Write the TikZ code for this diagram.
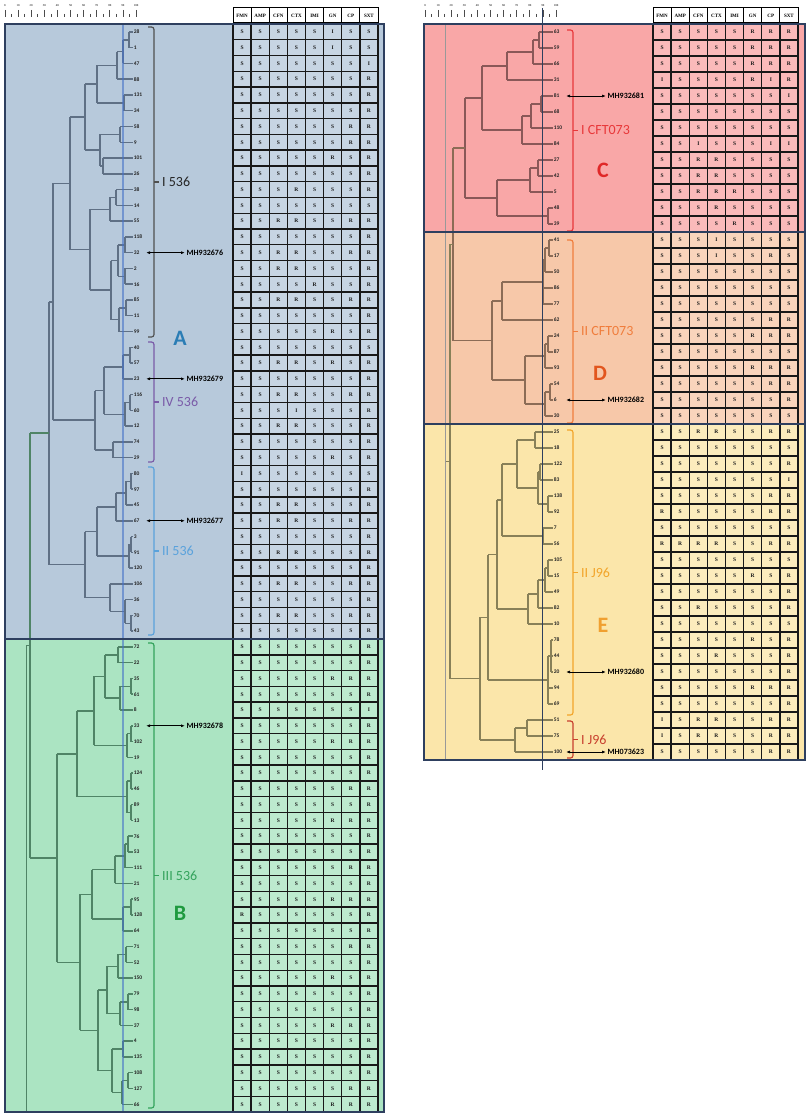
\documentclass[tikz,border=0pt]{standalone}
\usepackage{fontspec}
\setmainfont{Liberation Serif}
\newfontfamily\labf{Carlito}
\usetikzlibrary{calc,arrows.meta}
\definecolor{panA}{HTML}{B7C9DB}
\definecolor{panB}{HTML}{ABE4C2}
\definecolor{panC}{HTML}{F9A7A7}
\definecolor{panD}{HTML}{F7C8A9}
\definecolor{panE}{HTML}{FBE6AA}
\definecolor{frm}{HTML}{2E3F5F}
\definecolor{tcA}{HTML}{5F7085}
\definecolor{tcB}{HTML}{4F8466}
\definecolor{tcC}{HTML}{8A5858}
\definecolor{tcD}{HTML}{8C6C56}
\definecolor{tcE}{HTML}{888058}
\definecolor{cI}{HTML}{505050}
\definecolor{cIV}{HTML}{7A5BA8}
\definecolor{cII}{HTML}{5AA2DB}
\definecolor{cIII}{HTML}{34A35C}
\definecolor{cAA}{HTML}{2B7DB5}
\definecolor{cBB}{HTML}{1F9A3F}
\definecolor{cICFT}{HTML}{E8383A}
\definecolor{cCC}{HTML}{E02828}
\definecolor{cIICFT}{HTML}{F07D3C}
\definecolor{cDD}{HTML}{E2561E}
\definecolor{cIIJ}{HTML}{F2A52A}
\definecolor{cEE}{HTML}{F0A030}
\definecolor{cIJ}{HTML}{C8402E}
\definecolor{cutL}{RGB}{70,115,200}
\tikzset{
  tree/.style={line width=1.5pt,draw=tcA},
  frame/.style={draw=frm,line width=2pt},
  gridln/.style={draw=black!90,line width=1.4pt},
  cell/.style={font=\bfseries\fontsize{5.5}{6}\selectfont,text=black!90,inner sep=0pt},
  hcell/.style={draw=black,line width=1pt,fill=white,minimum width=18.125pt,minimum height=15pt,inner sep=0pt,font=\bfseries\fontsize{5}{5}\selectfont},
  leaf/.style={font=\labf\bfseries\fontsize{5.5}{6}\selectfont,anchor=west,inner sep=0.6pt,text=black!85},
  brkt/.style={line width=1.2pt,rounded corners=2.5pt},
  clab/.style={font=\labf\fontsize{14}{14}\selectfont,anchor=west,inner sep=0pt},
  bigl/.style={font=\labf\bfseries\fontsize{22}{22}\selectfont,inner sep=0pt},
  mh/.style={font=\labf\bfseries\fontsize{8}{8}\selectfont,anchor=west,inner sep=0.5pt},
  dbl/.style={{Latex[length=4pt,width=3pt]}-{Latex[length=4pt,width=3pt]},line width=0.9pt,shorten >=1pt},
  guide/.style={line width=0.8pt},
  tickm/.style={line width=0.7pt,draw=black!70},
  sclab/.style={font=\fontsize{3}{3}\selectfont,inner sep=0pt},
}
% dendrogram node: name, x, children
\newcommand\dgn[3]{%
  \foreach \dch [count=\dni] in {#3}{%
    \ifnum\dni=1 \global\let\dfirst\dch\fi
    \global\let\dlast\dch}%
  \path let \p1=($(\dfirst)!0.5!(\dlast)$) in (#2pt,\y1) coordinate (#1);
  \draw[tree] (#1 |- \dfirst) -- (#1 |- \dlast);
  \foreach \dch in {#3}{\draw[tree] (#1 |- \dch) -- (\dch);}%
}
% clade bracket: name, x, ytop, ybot, bracket colour, text colour, text
\newcommand\clbr[7]{%
  \draw[brkt,draw=#5] (#2-6,#3) -- (#2,#3) -- (#2,#4) -- (#2-6,#4);
  \draw[brkt,draw=#5] (#2,{(#3+#4)/2}) -- (#2+5,{(#3+#4)/2});
  \node[clab,text=#6] (#1) at (#2+8,{(#3+#4)/2}) {#7};
}
\def\setcodes#1#2#3#4#5#6#7#8\relax{\def\cdlist{#1,#2,#3,#4,#5,#6,#7,#8}}
\begin{document}
\begin{tikzpicture}[x=1pt,y=-1pt]
\useasboundingbox (0,0) rectangle (806,1116);
\fill[white] (0,0) rectangle (806,1116);
% panels
\fill[panA] (5,24) rectangle (384,638.5);
\fill[panB] (5,638.5) rectangle (384,1112);
\fill[panC] (424,24) rectangle (806,232);
\fill[panD] (424,232) rectangle (806,424);
\fill[panE] (424,424) rectangle (806,760);
% scales
\foreach \xo/\sn in {5/l,425/r}{
  \foreach \i [evaluate=\i as \v using int(10*\i)] in {0,...,10}{
    \draw[tickm] ({\xo+13.1*\i},10) -- ({\xo+13.1*\i},17);
    \node[sclab] (sc\sn\i) at ({\xo+13.1*\i},6) {\v};}
  \foreach \i in {0,...,9}{\draw[tickm] ({\xo+13.1*\i+6.55},14) -- ({\xo+13.1*\i+6.55},17);}
}
% table headers
\foreach \xo/\sn in {233/L,653/R}{
  \foreach \h [count=\c from 0] in {FMN,AMP,CFN,CTX,IMI,GN,CP,SXT}
    {\node[hcell] (h\sn\c) at ({\xo+18.125*(\c+0.5)},15.5) {\h};}
}
% left table
\fill[panA!78!white] (233,24) rectangle (378,638.5);
\fill[panB!78!white] (233,638.5) rectangle (378,1112);
\foreach \rw [count=\r from 0] in {SSSSSISS,SSSSSISS,SSSSSSSI,SSSSSSSR,SSSSSSSR,SSSSSSSR,SSSSSSRR,SSSSSSRR,SSSSSRSR,SSSSSSSR,
SSSRSSSR,SSSSSSSS,SSRRSSRR,SSSSSSSR,SSRRSSRR,SSRRSSSR,SSSSRSSR,SSRRSSRR,SSSSSSSR,SSSSSRSR,
SSSSSSSS,SSRRSRSR,SSSSSSSR,SSRRSSRR,SSSISSSR,SSRRSSSR,SSSSSSSR,SSSSSRSR,ISSSSSSS,SSSSSSSR,
SSRRSSSR,SSRRSSRR,SSSSSSSR,SSRRSSSR,SSSSSSSR,SSRRSSRR,SSSSSSSR,SSRRSSRR,SSSSSSSR,
SSSSSSSR,SSSSSSSR,SSSSSRRR,SSSSSSSR,SSSSSSSI,SSSSSSSR,SSSSSRRR,SSSSSSSR,SSSSSSSR,SSSSSSRR,
SSSSSSSR,SSSSSRRR,SSSSSSSR,SSSSSSSR,SSSSSSRR,SSSSSSSR,SSSSSRRR,RSSSSSSR,SSSSSSSR,SSSSSSRR,
SSSSSSSR,SSSSSRSR,SSSSSSSR,SSSSSSSR,SSSSSRRR,SSSSSSSR,SSSSSSSR,SSSSSSSR,SSSSSSRR,SSSSSRRR}{%
  \expandafter\setcodes\rw\relax
  \foreach \m [count=\c from 0] in \cdlist
    {\node[cell] (tL\r-\c) at ({233+18.125*(\c+0.5)},{24+15.77*(\r+0.5)}) {\m};}
}
\foreach \r in {0,...,69}{\draw[gridln] (233,{24+15.77*\r}) -- (378,{24+15.77*\r});}
\foreach \c in {0,...,8}{\draw[gridln] ({233+18.125*\c},24) -- ({233+18.125*\c},1112);}
% right table
\fill[panC!78!white] (653,24) rectangle (798,232);
\fill[panD!78!white] (653,232) rectangle (798,424);
\fill[panE!78!white] (653,424) rectangle (798,760);
\foreach \rw [count=\r from 0] in {SSSSSRRR,SSSSSRRR,SSSSSRRR,ISSSSRIR,SSSSSSSI,SSSSSSSS,SSSSSSSS,SSISSSII,SSRRSSSS,SSRRSSSS,SSRRRSSS,SSSRSSSS,SSSSRSSS,
SSSISSSS,SSSISSRS,SSSSSSSS,SSSSSSSS,SSSSSSSS,SSSSSSRR,SSSSSRRR,SSSSSSSS,SSSSSRRR,SSSSSSRR,SSSSSSSR,SSSSSSSS,
SSRRSSRR,SSSSSSSS,SSSSSSSR,SSSSSSSI,SSSSSSRR,RSSSSSRR,SSSSSSSS,RRRRSSRR,SSSSSSSS,SSSSSRSR,SSSSSSSR,
SSRSSSSR,SSSSSSSS,SSSSSRSR,SSSRSSSR,SSSSSSSR,SSSSSRRR,SSSSSSSR,ISRRSSRR,ISRRSSRR,SSSSSSRR}{%
  \expandafter\setcodes\rw\relax
  \foreach \m [count=\c from 0] in \cdlist
    {\node[cell] (tR\r-\c) at ({653+18.125*(\c+0.5)},{24+16*(\r+0.5)}) {\m};}
}
\foreach \r in {0,...,46}{\draw[gridln] (653,{24+16*\r}) -- (798,{24+16*\r});}
\foreach \c in {0,...,8}{\draw[gridln] ({653+18.125*\c},24) -- ({653+18.125*\c},760);}
% leaves
\foreach \id [count=\r from 0] in {28,1,47,88,131,34,58,9,101,26,38,14,55,118,32,2,16,85,11,99,40,57,23,116,60,12,74,29,80,97,45,67,3,91,120,106,36,70,43,72,22,35,61,8,33,102,19,124,46,89,13,76,53,111,21,95,128,64,71,52,150,79,98,37,4,135,108,127,66}{%
  \coordinate (L\r) at (133,{24+15.77*(\r+0.5)});
  \node[leaf] (LL\r) at (L\r) {\id};}
\foreach \id [count=\r from 0] in {63,59,66,31,81,68,110,84,27,42,5,48,39,41,17,50,86,77,62,24,87,93,54,6,30,25,18,122,83,138,92,7,56,105,15,49,82,10,78,44,20,94,69,51,75,100}{%
  \coordinate (R\r) at (553,{24+16*(\r+0.5)});
  \node[leaf] (RL\r) at (R\r) {\id};}
% left tree, cluster A
\begin{scope}[tree/.style={line width=1.5pt,draw=tcA}]
\dgn{a1}{129}{L0,L1}
\dgn{a2}{123}{a1,L2}
\dgn{a3}{117}{a2,L3}
\dgn{a4}{124}{L4,L5}
\dgn{a5}{97}{a3,a4}
\dgn{a6}{120}{L6,L7}
\dgn{a7}{103}{L8,L9}
\dgn{a8}{100}{a6,a7}
\dgn{a9}{85}{a5,a8}
\dgn{b1}{116}{L10,L11}
\dgn{b2}{110}{b1,L12}
\dgn{b3}{125}{L13,L14}
\dgn{b4}{125}{L15,L16}
\dgn{b5}{118}{b3,b4}
\dgn{b6}{126}{L17,L18}
\dgn{b7}{119}{b6,L19}
\dgn{b8}{111}{b5,b7}
\dgn{b9}{90}{b2,b8}
\dgn{c1}{70}{a9,b9}
\dgn{d1}{130}{L20,L21}
\dgn{d2}{123}{d1,L22}
\dgn{d3}{130}{L23,L24}
\dgn{d4}{125}{d3,L25}
\dgn{d5}{104}{d2,d4}
\dgn{d6}{113}{L26,L27}
\dgn{d7}{95}{d5,d6}
\dgn{c2}{53}{c1,d7}
\dgn{e1}{131}{L28,L29}
\dgn{e2}{126}{e1,L30}
\dgn{e3}{116}{e2,L31}
\dgn{e4}{131}{L32,L33}
\dgn{e5}{129}{e4,L34}
\dgn{e6}{97}{e3,e5}
\dgn{e7}{131}{L37,L38}
\dgn{e8}{125}{L36,e7}
\dgn{e9}{110}{L35,e8}
\dgn{e10}{85}{e6,e9}
\dgn{Aroot}{49}{c2,e10}
\end{scope}
\begin{scope}[tree/.style={line width=1.5pt,draw=tcB}]
\dgn{f1}{118}{L39,L40}
\dgn{f2}{131}{L41,L42}
\dgn{f3}{120}{f2,L43}
\dgn{f4}{105}{f1,f3}
\dgn{f5}{131}{L44,L45}
\dgn{f6}{127}{f5,L46}
\dgn{f7}{94}{f4,f6}
\dgn{f8}{131}{L47,L48}
\dgn{f9}{131}{L49,L50}
\dgn{f10}{127}{f8,f9}
\dgn{f11}{77}{f7,f10}
\dgn{g1}{128}{L51,L52}
\dgn{g2}{125}{g1,L53}
\dgn{g3}{115}{g2,L54}
\dgn{g4}{131}{L55,L56}
\dgn{g5}{123}{g4,L57}
\dgn{g6}{92}{g3,g5}
\dgn{g7}{126}{L58,L59}
\dgn{g8}{118}{g7,L60}
\dgn{g9}{128}{L61,L62}
\dgn{g10}{120}{g9,L63}
\dgn{g11}{107}{g8,g10}
\dgn{g12}{123}{L64,L65}
\dgn{g13}{128}{L66,L67}
\dgn{g14}{122}{g13,L68}
\dgn{g15}{112}{g12,g14}
\dgn{g16}{98}{g11,g15}
\dgn{g17}{80}{g6,g16}
\dgn{Broot}{57}{f11,g17}
\dgn{Lroot}{30}{Aroot,Broot}
\draw[tree] (Lroot) -- (Lroot -| 26,0);
\draw[guide,draw=tcB] (Lroot -| 26,0) -- (26,1112);
\end{scope}
% right tree
\begin{scope}[tree/.style={line width=1.5pt,draw=tcC}]
\dgn{p1}{539}{R0,R1}
\dgn{p2}{533}{p1,R2}
\dgn{p3}{507}{p2,R3}
\dgn{p4}{541}{R4,R5}
\dgn{p5}{531}{p4,R6}
\dgn{p6}{522}{p5,R7}
\dgn{p7}{482}{p3,p6}
\dgn{p8}{538}{R8,R9}
\dgn{p9}{530}{p8,R10}
\dgn{p10}{548}{R11,R12}
\dgn{p11}{497}{p9,p10}
\dgn{Croot}{465}{p7,p11}
\end{scope}
\begin{scope}[tree/.style={line width=1.5pt,draw=tcD}]
\dgn{q1}{549}{R13,R14}
\dgn{q2}{545}{q1,R15}
\dgn{q3}{543}{q2,R16,R17}
\dgn{q4}{502}{q3,R18}
\dgn{q5}{548}{R19,R20}
\dgn{q6}{545}{q5,R21}
\dgn{q7}{550}{R22,R23}
\dgn{q8}{545}{q7,R24}
\dgn{q9}{525}{q6,q8}
\dgn{Droot}{492}{q4,q9}
\dgn{CD}{453}{Croot,Droot}
\end{scope}
\begin{scope}[tree/.style={line width=1.5pt,draw=tcE}]
\dgn{s1}{535}{R25,R26}
\dgn{s2}{540}{R27,R28}
\dgn{s3}{548}{R29,R30}
\dgn{s4}{538}{s2,s3}
\dgn{s5}{517}{s1,s4}
\dgn{s6}{543}{R31,R32}
\dgn{s7}{502}{s5,s6}
\dgn{s8}{548}{R33,R34}
\dgn{s9}{545}{s8,R35}
\dgn{s10}{538}{s9,R36}
\dgn{s11}{528}{s10,R37}
\dgn{s12}{497}{s7,s11}
\dgn{s13}{551}{R38,R39,R40}
\dgn{s14}{548}{s13,R41,R42}
\dgn{s15}{488}{s12,s14}
\dgn{t1}{527}{R43,R44}
\dgn{t2}{515}{t1,R45}
\dgn{Eroot}{480}{s15,t2}
\dgn{Rroot}{450}{CD,Eroot}
\draw[tree] (Rroot) -- (Rroot -| 445,0);
\end{scope}
\draw[guide,draw=black!40] (445,24) -- (445,760);
% cut lines
\draw[line width=2.4pt,draw=cutL,draw opacity=0.6] (123,24) -- (123,1112);
\draw[line width=0.8pt,draw=frm] (542,8) -- (542,770);
% brackets and clade labels
\clbr{lI}{154}{27}{337}{cI}{black!85}{I 536}
\clbr{lIV}{154}{342}{462}{cIV}{cIV}{IV 536}
\clbr{lII}{154}{467}{635}{cII}{cII}{II 536}
\clbr{lIII}{154}{643}{1108}{cIII}{cIII}{III 536}
\clbr{lICFT}{573}{30}{231}{cICFT}{cICFT}{I CFT073}
\clbr{lIICFT}{573}{240}{423}{cIICFT}{cIICFT}{II CFT073}
\clbr{lIIJ}{573}{430}{715}{cIIJ}{cIIJ}{II J96}
\clbr{lIJ}{573}{721}{758}{cIJ}{cIJ}{I J96}
\node[bigl,text=cAA] (gA) at (180,338) {A};
\node[bigl,text=cBB] (gB) at (180,913) {B};
\node[bigl,text=cCC] (gC) at (603,170) {C};
\node[bigl,text=cDD] (gD) at (600,373) {D};
\node[bigl,text=cEE] (gE) at (603,625) {E};
% accession arrows
\foreach \rr/\lab [count=\k] in {14/MH932676,22/MH932679,31/MH932677,44/MH932678}{%
  \coordinate (la\k) at (146,{24+15.77*(\rr+0.5)});
  \node[mh] (lm\k) at (186,{24+15.77*(\rr+0.5)}) {\lab};
  \draw[dbl] (la\k) -- (lm\k.west);}
\foreach \rr/\lab [count=\k] in {4/MH932681,23/MH932682,40/MH932680,45/MH073623}{%
  \coordinate (ra\k) at (566,{24+16*(\rr+0.5)});
  \node[mh] (rm\k) at (607,{24+16*(\rr+0.5)}) {\lab};
  \draw[dbl] (ra\k) -- (rm\k.west);}
% frames
\draw[frame] (5,24) rectangle (384,1112);
\draw[frame] (5,638.5) -- (384,638.5);
\draw[frame] (424,24) rectangle (805,760);
\draw[frame] (424,232) -- (805,232);
\draw[frame] (424,424) -- (805,424);
\end{tikzpicture}
\end{document}
